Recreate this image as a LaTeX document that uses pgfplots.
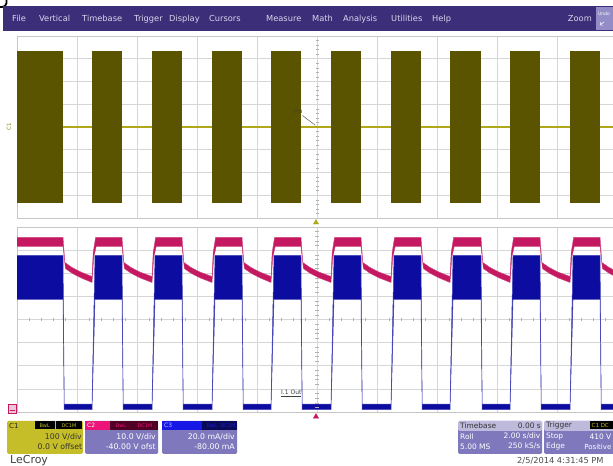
\documentclass[border=0pt]{standalone}
\usepackage{pgfplots}
\pgfplotsset{compat=1.18}
\usepackage{fontspec}
\setmainfont{DejaVu Sans}
\definecolor{menubg}{RGB}{60,46,120}
\definecolor{menutx}{RGB}{218,214,238}
\definecolor{oliveblk}{RGB}{90,84,0}
\definecolor{oliveline}{RGB}{176,168,24}
\definecolor{magtr}{RGB}{196,24,96}
\definecolor{bluetr}{RGB}{12,12,160}
\definecolor{c1box}{RGB}{198,190,40}
\definecolor{lav}{RGB}{128,120,188}
\definecolor{lavlight}{RGB}{190,186,220}
\definecolor{c2head}{RGB}{236,20,120}
\definecolor{c2dark}{RGB}{80,0,36}
\definecolor{c3head}{RGB}{24,24,230}
\definecolor{c3dark}{RGB}{10,10,90}
\definecolor{gridc}{RGB}{214,214,214}
\newcommand{\fs}[1]{\fontsize{#1}{#1}\selectfont}
\pgfplotsset{scopeaxis/.style={scale only axis, width=600bp, xmin=0, xmax=10, ymin=-4, ymax=4,
  xtick={0,...,10}, ytick={-4,...,4}, xticklabels={}, yticklabels={}, major tick length=0pt,
  grid=major, grid style={gridc, line width=0.6bp}, axis line style={gray!45, line width=0.6bp},
  clip=false, anchor=south west}}
\begin{document}
\begin{tikzpicture}[x=1bp,y=1bp,every node/.style={inner sep=0pt}]
\useasboundingbox (0,0) rectangle (613,466);
\clip (0,0) rectangle (613,466);
\fill[white] (0,0) rectangle (613,466);
\draw[line width=1.8bp] (0,459) .. controls (5,458.5) and (7,461) .. (6.5,466);
% menu bar
\fill[menubg] (3,435) rectangle (613,460);
\begin{scope}[every node/.style={inner sep=0pt, anchor=base west, text=menutx, font={\fs{8.3}}}]
\node at (12,444) {File};
\node at (39,444) {Vertical};
\node at (82,444) {Timebase};
\node at (134,444) {Trigger};
\node at (169,444) {Display};
\node at (209,444) {Cursors};
\node at (266,444) {Measure};
\node at (312,444) {Math};
\node at (343,444) {Analysis};
\node at (391,444) {Utilities};
\node at (432,444) {Help};
\node[anchor=base east] at (592,444) {Zoom};
\end{scope}
\fill[lav!85!white] (596,436) rectangle (613,459);
\node[text=white, font={\fs{4.5}}, anchor=west] at (598,452) {Undo};
\draw[white, line width=0.6bp, ->] (604,444) -- (600,441);
% left labels
\node[text=oliveline!80!black, font={\fs{5.5}}, rotate=90] at (9,339) {C1};
\fill[magtr!25!white, draw=magtr, line width=0.6bp] (8,53) rectangle (16,62);
\draw[magtr, line width=0.6bp] (9.5,56) -- (14.5,56);
% upper panel
\begin{axis}[scopeaxis, at={(17bp,248bp)}, height=182bp]
\addplot[only marks, mark=-, mark size=1.5bp, gray!60] coordinates {(5,-3.8)(5,-3.6)(5,-3.4)(5,-3.2)(5,-2.8)(5,-2.6)(5,-2.4)(5,-2.2)(5,-1.8)(5,-1.6)(5,-1.4)(5,-1.2)(5,-0.8)(5,-0.6)(5,-0.4)(5,-0.2)(5,0.2)(5,0.4)(5,0.6)(5,0.8)(5,1.2)(5,1.4)(5,1.6)(5,1.8)(5,2.2)(5,2.4)(5,2.6)(5,2.8)(5,3.2)(5,3.4)(5,3.6)(5,3.8)};
\addplot[oliveline, line width=2.6bp] coordinates {(0,0)(10.2,0)};
\addplot[fill=oliveblk, draw=none] coordinates {(0,-3.34)(0.767,-3.34)(0.767,3.34)(0,3.34)};
\addplot[fill=oliveblk, draw=none] coordinates {(1.25,-3.34)(1.75,-3.34)(1.75,3.34)(1.25,3.34)};
\addplot[fill=oliveblk, draw=none] coordinates {(2.25,-3.34)(2.75,-3.34)(2.75,3.34)(2.25,3.34)};
\addplot[fill=oliveblk, draw=none] coordinates {(3.25,-3.34)(3.75,-3.34)(3.75,3.34)(3.25,3.34)};
\addplot[fill=oliveblk, draw=none] coordinates {(4.233,-3.34)(4.733,-3.34)(4.733,3.34)(4.233,3.34)};
\addplot[fill=oliveblk, draw=none] coordinates {(5.233,-3.34)(5.733,-3.34)(5.733,3.34)(5.233,3.34)};
\addplot[fill=oliveblk, draw=none] coordinates {(6.233,-3.34)(6.733,-3.34)(6.733,3.34)(6.233,3.34)};
\addplot[fill=oliveblk, draw=none] coordinates {(7.217,-3.34)(7.733,-3.34)(7.733,3.34)(7.217,3.34)};
\addplot[fill=oliveblk, draw=none] coordinates {(8.217,-3.34)(8.717,-3.34)(8.717,3.34)(8.217,3.34)};
\addplot[fill=oliveblk, draw=none] coordinates {(9.217,-3.34)(9.717,-3.34)(9.717,3.34)(9.217,3.34)};
\addplot[only marks, mark=triangle*, mark size=3bp, oliveline, mark options={draw=none}] coordinates {(4.983,-4.2)};
\node[font={\fs{6}}, text=black!75] at (axis cs:4.68,0.68) {Vin};
\draw[gray!70!black, line width=0.5bp] (axis cs:4.76,0.5) -- (axis cs:4.97,0.08);
\end{axis}
% lower panel
\begin{axis}[scopeaxis, at={(17bp,54bp)}, height=185bp]
\addplot[only marks, mark=|, mark size=1.6bp, gray!60] coordinates {(0.2,0)(0.4,0)(0.6,0)(0.8,0)(1.2,0)(1.4,0)(1.6,0)(1.8,0)(2.2,0)(2.4,0)(2.6,0)(2.8,0)(3.2,0)(3.4,0)(3.6,0)(3.8,0)(4.2,0)(4.4,0)(4.6,0)(4.8,0)(5.2,0)(5.4,0)(5.6,0)(5.8,0)(6.2,0)(6.4,0)(6.6,0)(6.8,0)(7.2,0)(7.4,0)(7.6,0)(7.8,0)(8.2,0)(8.4,0)(8.6,0)(8.8,0)(9.2,0)(9.4,0)(9.6,0)(9.8,0)};
\addplot[only marks, mark=-, mark size=1.6bp, gray!60] coordinates {(5,-3.8)(5,-3.6)(5,-3.4)(5,-3.2)(5,-2.8)(5,-2.6)(5,-2.4)(5,-2.2)(5,-1.8)(5,-1.6)(5,-1.4)(5,-1.2)(5,-0.8)(5,-0.6)(5,-0.4)(5,-0.2)(5,0.2)(5,0.4)(5,0.6)(5,0.8)(5,1.2)(5,1.4)(5,1.6)(5,1.8)(5,2.2)(5,2.4)(5,2.6)(5,2.8)(5,3.2)(5,3.4)(5,3.6)(5,3.8)};
% blue current trace (upper envelope, then lower envelope backwards)
\addplot[fill=bluetr, draw=bluetr!75!white, line width=0.5bp] coordinates {
(0,2.77)(0.767,2.77)(0.787,-3.66)(1.25,-3.66)(1.30,2.77)(1.75,2.77)(1.77,-3.66)(2.25,-3.66)(2.30,2.77)(2.75,2.77)(2.77,-3.66)(3.25,-3.66)(3.30,2.77)(3.75,2.77)(3.77,-3.66)(4.233,-3.66)(4.283,2.77)(4.733,2.77)(4.753,-3.66)(5.233,-3.66)(5.283,2.77)(5.733,2.77)(5.753,-3.66)(6.233,-3.66)(6.283,2.77)(6.733,2.77)(6.753,-3.66)(7.217,-3.66)(7.267,2.77)(7.733,2.77)(7.753,-3.66)(8.217,-3.66)(8.267,2.77)(8.717,2.77)(8.737,-3.66)(9.217,-3.66)(9.267,2.77)(9.717,2.77)(9.737,-3.66)(10.2,-3.66)
(10.2,-3.9)(9.737,-3.9)(9.717,0.87)(9.267,0.87)(9.217,-3.9)(8.737,-3.9)(8.717,0.87)(8.267,0.87)(8.217,-3.9)(7.753,-3.9)(7.733,0.87)(7.267,0.87)(7.217,-3.9)(6.753,-3.9)(6.733,0.87)(6.283,0.87)(6.233,-3.9)(5.753,-3.9)(5.733,0.87)(5.283,0.87)(5.233,-3.9)(4.753,-3.9)(4.733,0.87)(4.283,0.87)(4.233,-3.9)(3.77,-3.9)(3.75,0.87)(3.30,0.87)(3.25,-3.9)(2.77,-3.9)(2.75,0.87)(2.30,0.87)(2.25,-3.9)(1.77,-3.9)(1.75,0.87)(1.30,0.87)(1.25,-3.9)(0.787,-3.9)(0.767,0.87)(0,0.87)};
% magenta voltage trace
\addplot[fill=magtr, draw=magtr!80!white, line width=0.4bp] coordinates {
(0,3.55)(0.767,3.55)(0.797,2.47)(0.917,2.25)(1.067,2.05)(1.25,1.86)(1.27,2.9)(1.31,3.55)
(1.75,3.55)(1.78,2.47)(1.9,2.25)(2.05,2.05)(2.25,1.86)(2.27,2.9)(2.31,3.55)
(2.75,3.55)(2.78,2.47)(2.9,2.25)(3.05,2.05)(3.25,1.86)(3.27,2.9)(3.31,3.55)
(3.75,3.55)(3.78,2.47)(3.9,2.25)(4.05,2.05)(4.233,1.86)(4.253,2.9)(4.293,3.55)
(4.733,3.55)(4.763,2.47)(4.883,2.25)(5.033,2.05)(5.233,1.86)(5.253,2.9)(5.293,3.55)
(5.733,3.55)(5.763,2.47)(5.883,2.25)(6.033,2.05)(6.233,1.86)(6.253,2.9)(6.293,3.55)
(6.733,3.55)(6.763,2.47)(6.883,2.25)(7.033,2.05)(7.217,1.86)(7.237,2.9)(7.277,3.55)
(7.733,3.55)(7.763,2.47)(7.883,2.25)(8.033,2.05)(8.217,1.86)(8.237,2.9)(8.277,3.55)
(8.717,3.55)(8.747,2.47)(8.867,2.25)(9.017,2.05)(9.217,1.86)(9.237,2.9)(9.277,3.55)
(9.717,3.55)(9.747,2.47)(9.867,2.25)(10.017,2.05)(10.2,1.95)
(10.2,1.73)(10.017,1.8)(9.867,2.0)(9.757,2.2)(9.717,3.16)
(9.287,3.16)(9.247,2.7)(9.217,1.6)(9.017,1.8)(8.867,2.0)(8.757,2.2)(8.717,3.16)
(8.287,3.16)(8.247,2.7)(8.217,1.6)(8.033,1.8)(7.883,2.0)(7.773,2.2)(7.733,3.16)
(7.287,3.16)(7.247,2.7)(7.217,1.6)(7.033,1.8)(6.883,2.0)(6.773,2.2)(6.733,3.16)
(6.303,3.16)(6.263,2.7)(6.233,1.6)(6.033,1.8)(5.883,2.0)(5.773,2.2)(5.733,3.16)
(5.303,3.16)(5.263,2.7)(5.233,1.6)(5.033,1.8)(4.883,2.0)(4.773,2.2)(4.733,3.16)
(4.303,3.16)(4.263,2.7)(4.233,1.6)(4.05,1.8)(3.9,2.0)(3.79,2.2)(3.75,3.16)
(3.32,3.16)(3.28,2.7)(3.25,1.6)(3.05,1.8)(2.9,2.0)(2.79,2.2)(2.75,3.16)
(2.32,3.16)(2.28,2.7)(2.25,1.6)(2.05,1.8)(1.9,2.0)(1.79,2.2)(1.75,3.16)
(1.32,3.16)(1.28,2.7)(1.25,1.6)(1.067,1.8)(0.917,2.0)(0.807,2.2)(0.767,3.16)
(0,3.16)};
\addplot[only marks, mark=triangle*, mark size=3bp, magtr, mark options={draw=none}] coordinates {(4.983,-4.2)};
\node[font={\fs{6}}, text=black!75, anchor=south west] (io) at (axis cs:4.4,-3.35) {\underline{I.1 Out}};
\end{axis}
% status bar
\fill[c1box, rounded corners=1.5bp] (7,12) rectangle (83,45);
\node[anchor=west, font={\fs{7}}, text=black!85] at (9,40.5) {C1};
\fill[black] (35,37) rectangle (54.5,44.5);
\fill[black] (56,37) rectangle (82,44.5);
\node[font={\fs{5}}, text=c1box] at (44.7,40.7) {BwL};
\node[font={\fs{5}}, text=c1box] at (69,40.7) {DC1M};
\node[anchor=east, font={\fs{7.8}}, text=black!80] at (82,29.5) {100 V/div};
\node[anchor=east, font={\fs{7.8}}, text=black!80] at (82.5,19.5) {0.0 V offset};
% C2
\fill[lav, rounded corners=1.5bp] (85,12) rectangle (158,45);
\fill[c2head] (85,36) rectangle (110,45);
\fill[c2dark] (110,36) rectangle (158,45);
\node[anchor=west, font={\fs{6}}, text=white] at (87,40.5) {C2};
\node[font={\fs{5}}, text=c2head] at (121,40.7) {BwL};
\node[font={\fs{5}}, text=c2head] at (145,40.7) {DC1M};
\node[anchor=east, font={\fs{7.8}}, text=white] at (156,29.5) {10.0 V/div};
\node[anchor=east, font={\fs{7.8}}, text=white] at (156,19.5) {-40.00 V ofst};
% C3
\fill[lav, rounded corners=1.5bp] (162,12) rectangle (237,45);
\fill[c3head] (162,36) rectangle (202,45);
\fill[c3dark] (202,36) rectangle (237,45);
\node[anchor=west, font={\fs{6}}, text=white!70!c3head] at (164,40.5) {C3};
\node[font={\fs{5}}, text=c3head] at (212,40.7) {BwL};
\node[font={\fs{5}}, text=c3head] at (228,40.7) {DC1M};
\node[anchor=east, font={\fs{7.8}}, text=white] at (235,29.5) {20.0 mA/div};
\node[anchor=east, font={\fs{7.8}}, text=white] at (235,19.5) {-80.00 mA};
% Timebase
\fill[lav, rounded corners=1.5bp] (458,12) rectangle (542,45);
\fill[lavlight, rounded corners=1.5bp] (458,35) rectangle (542,45);
\node[anchor=west, font={\fs{7.5}}, text=black!80] at (460,40.3) {Timebase};
\node[anchor=east, font={\fs{7.5}}, text=black!80] at (541,40.3) {0.00 s};
\node[anchor=west, font={\fs{7.5}}, text=white] at (460,29.5) {Roll};
\node[anchor=east, font={\fs{7.5}}, text=white] at (540.5,29.5) {2.00 s/div};
\node[anchor=west, font={\fs{7.5}}, text=white] at (460,19.5) {5.00 MS};
\node[anchor=east, font={\fs{7.5}}, text=white] at (540.5,19.5) {250 kS/s};
% Trigger
\fill[lav, rounded corners=1.5bp] (544,12) rectangle (625,45);
\fill[lavlight, rounded corners=1.5bp] (544,35) rectangle (625,45);
\node[anchor=west, font={\fs{7.5}}, text=black!80] at (546,40.3) {Trigger};
\fill[black] (590,36.5) rectangle (613,44.5);
\node[anchor=west, font={\fs{5.5}}, text=c1box] at (591.5,40.6) {C1 DC};
\node[anchor=west, font={\fs{7.5}}, text=white] at (546,29.5) {Stop};
\node[anchor=east, font={\fs{7.5}}, text=white] at (611.5,29.5) {410 V};
\node[anchor=west, font={\fs{7.5}}, text=white] at (546,19.5) {Edge};
\node[anchor=east, font={\fs{7}}, text=white] at (611.5,19.5) {Positive};
% footer
\node[anchor=base west, font={\fs{11}}, text=black!75] at (10,2.7) {LeCroy};
\node[anchor=base west, font={\fs{8.3}}, text=black!70] at (517,2) {2/5/2014 4:31:45 PM};
\end{tikzpicture}
\end{document}
